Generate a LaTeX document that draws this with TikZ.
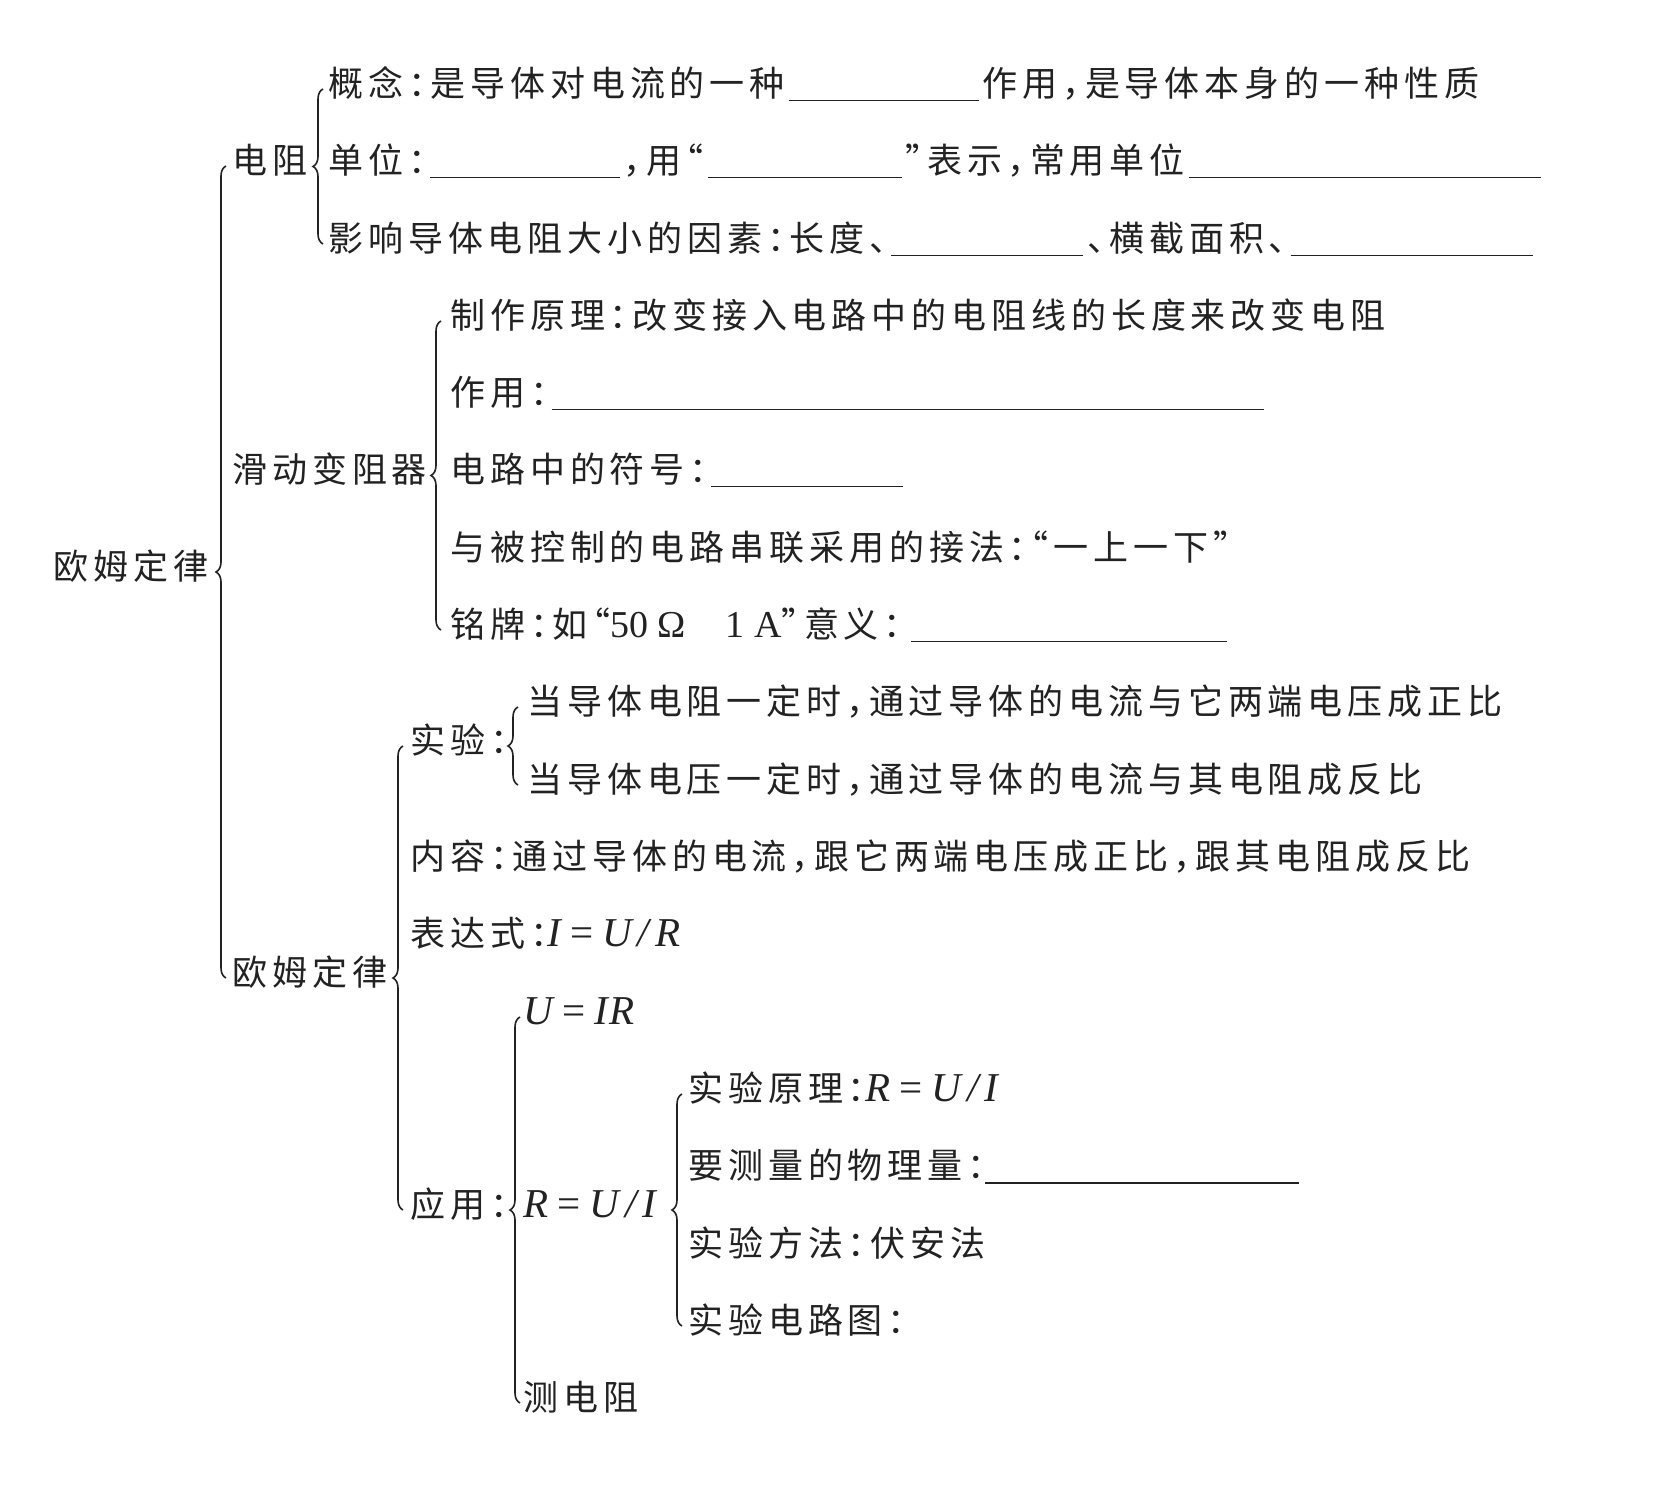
\documentclass[tikz,border=0pt]{standalone}
\usepackage{fontspec}
\setmainfont{Liberation Serif}
\newfontfamily\cjk[LetterSpace=14,RawFeature={+halt}]{Noto Sans CJK SC}
\newfontfamily\lat{Liberation Serif}
\usetikzlibrary{decorations.pathreplacing}
\definecolor{ink}{HTML}{222222}
% blank to fill in, width in pt
\newcommand{\blank}[1]{\hspace{2pt}\rule[-2.5pt]{#1pt}{0.8pt}\hspace{2pt}}
\newcommand{\eqsign}{\hspace{4.5pt}{\upshape=}\hspace{4.5pt}}
\newcommand{\slsh}{\hspace{3pt}/\hspace{3pt}}
\newcommand{\eq}[1]{{\lat\itshape\fontsize{20.5}{24}\selectfont #1}}

\begin{document}
\begin{tikzpicture}[x=0.5pt,y=-0.5pt,
  every node/.style={font=\cjk\fontsize{17.5}{20}\selectfont, text=ink},
  txt/.style={anchor=west, inner sep=0pt, text height=0.8em, text depth=0.05em},
  brc/.style={draw=ink, line width=0.8pt, decorate, decoration={brace, amplitude=5pt}}
]
  \useasboundingbox[fill=white] (0,0) rectangle (1660,1507);

  % main branches
  \node[txt] (root) at (53,572) {欧姆定律};
  \node[txt] (dz) at (232,166) {电阻};
  \node[txt] (hd) at (232,475) {滑动变阻器};
  \node[txt] (om) at (232,978) {欧姆定律};

  % resistance
  \node[txt] (dz1) at (328,89) {概念：是导体对电流的一种\blank{95}作用，是导体本身的一种性质};
  \node[txt] (dz2) at (328,166) {单位：\blank{95}，用“\blank{97}”表示，常用单位\blank{176}};
  \node[txt] (dz3) at (328,244) {影响导体电阻大小的因素：长度、\blank{96}、横截面积、\blank{121}};

  % rheostat
  \node[txt] (hd1) at (450,321) {制作原理：改变接入电路中的电阻线的长度来改变电阻};
  \node[txt] (hd2) at (450,398) {作用：\blank{356}};
  \node[txt] (hd3) at (450,475) {电路中的符号：\blank{96}};
  \node[txt] (hd4) at (450,553) {与被控制的电路串联采用的接法：“一上一下”};
  \node[txt] (hd5) at (450,630) {铭牌：如“{\lat\fontsize{19}{22}\selectfont 50 Ω\hspace{20pt}1 A}”意义：\hspace{3pt}\blank{158}};

  % Ohm's law
  \node[txt] (sy) at (410,746) {实验：};
  \node[txt] (sy1) at (527,707) {当导体电阻一定时，通过导体的电流与它两端电压成正比};
  \node[txt] (sy2) at (527,785) {当导体电压一定时，通过导体的电流与其电阻成反比};
  \node[txt] (nr) at (410,862) {内容：通过导体的电流，跟它两端电压成正比，跟其电阻成反比};
  \node[txt] (bd) at (410,939) {表达式：\eq{I\eqsign U\slsh R}};
  \node[txt] (yy) at (410,1210) {应用：};
  \node[txt] (yy1) at (523,1017) {\eq{U\eqsign I\hspace{1pt}R}};
  \node[txt] (yy2) at (523,1210) {\eq{R\eqsign U\slsh I}};
  \node[txt] (yy3) at (523,1403) {测电阻};
  \node[txt] (cl1) at (688,1094) {实验原理：\eq{R\eqsign U\slsh I}};
  \node[txt] (cl2) at (688,1171) {要测量的物理量：\hspace{-2pt}\blank{157}};
  \node[txt] (cl3) at (688,1249) {实验方法：伏安法};
  \node[txt] (cl4) at (688,1326) {实验电路图：};

  % braces
  \draw[brc] ([xshift=-3pt]om.west) -- ([xshift=-3pt]dz.west);
  \draw[brc] ([xshift=-2.5pt]dz3.west) -- ([xshift=-2.5pt]dz1.west);
  \draw[brc] ([xshift=-4.5pt]hd5.west) -- ([xshift=-4.5pt]hd1.west);
  \draw[brc] ([xshift=-3.5pt]yy.west) -- ([xshift=-3.5pt]sy.west);
  \draw[brc] ([xshift=-4.5pt]sy2.west) -- ([xshift=-4.5pt]sy1.west);
  \draw[brc] ([xshift=-1.5pt]yy3.west) -- ([xshift=-1.5pt]yy1.west);
  \draw[brc] ([xshift=-3pt]cl4.west) -- ([xshift=-3pt]cl1.west);
\end{tikzpicture}
\end{document}
